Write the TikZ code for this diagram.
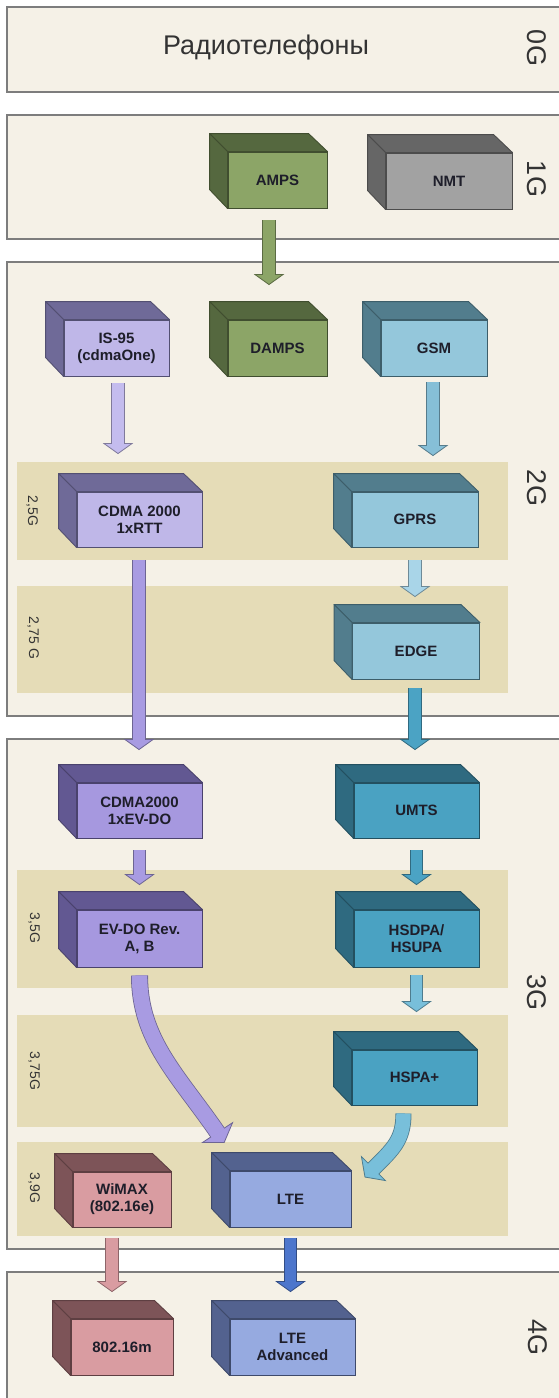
\documentclass[tikz,border=0pt]{standalone}
\usepackage{fontspec}
\setmainfont{Liberation Sans}
\usetikzlibrary{calc}
\definecolor{panelF}{HTML}{F5F1E7}
\definecolor{panelB}{HTML}{7D7D7D}
\definecolor{bandF}{HTML}{E5DCB7}
\definecolor{txt}{HTML}{1E1E2A}
\definecolor{lbl}{HTML}{333333}
\definecolor{greenF}{HTML}{8CA567}
\definecolor{greenD}{HTML}{55683F}
\definecolor{grayF}{HTML}{A2A2A2}
\definecolor{grayD}{HTML}{666666}
\definecolor{lavF}{HTML}{BFB7E8}
\definecolor{lavD}{HTML}{6F6A98}
\definecolor{purF}{HTML}{A698DF}
\definecolor{purD}{HTML}{625892}
\definecolor{ltbF}{HTML}{94C7DB}
\definecolor{ltbD}{HTML}{527D8D}
\definecolor{tealF}{HTML}{4AA2C2}
\definecolor{tealD}{HTML}{2F6A80}
\definecolor{lteF}{HTML}{96AAE0}
\definecolor{lteD}{HTML}{53628F}
\definecolor{pinkF}{HTML}{D99CA1}
\definecolor{pinkD}{HTML}{7D5458}
\definecolor{aGreen}{HTML}{8CA567}
\definecolor{aLav}{HTML}{C4BCEE}
\definecolor{aPur}{HTML}{A89BE2}
\definecolor{aLtb}{HTML}{86BFD7}
\definecolor{aLtbB}{HTML}{A9D5E8}
\definecolor{aTeal}{HTML}{4BA3C4}
\definecolor{aTealB}{HTML}{78BFDA}
\definecolor{aPink}{HTML}{D99CA1}
\definecolor{aBlue}{HTML}{4D76CC}

\tikzset{
  panel/.style={fill=panelF, draw=panelB, line width=1.4pt},
  band/.style={fill=bandF, draw=none},
  cubebox/.style={rectangle, inner sep=0pt, align=center,
    font=\bfseries\fontsize{15}{17}\selectfont, text=txt, line width=0.9pt},
  genlabel/.style={rotate=-90, font=\fontsize{27}{27}\selectfont, text=lbl},
  sublabel/.style={rotate=-90, font=\fontsize{14}{14}\selectfont, text=lbl},
}

% name, cx, cy, w, h, front, dark, text
\newcommand{\cube}[8]{%
  \node[cubebox, fill=#6, draw=#7!75!black, minimum width=#4pt, minimum height=#5pt] (#1) at (#2,#3) {#8};
  \filldraw[fill=#7, draw=#7!75!black, line width=0.9pt, line join=round]
    (#1.north west) -- ++(-18,-18) -- ++(#4,0) -- (#1.north east) -- cycle;
  \filldraw[fill=#7, draw=#7!75!black, line width=0.9pt, line join=round]
    (#1.north west) -- ++(-18,-18) -- ++(0,#5) -- (#1.south west) -- cycle;
}

% shaft path, base coordinate, direction angle, fill colour, shaft width, head half width, head length
\newcommand{\blockarrow}[7]{%
  \pgfmathsetmacro\bArPlus{#3+90}%
  \pgfmathsetmacro\bArMinus{#3-90}%
  \pgfmathsetmacro\bArInner{#5-1.6}%
  \draw[line width=#5pt, #4!65!black] #1;
  \filldraw[fill=#4, draw=#4!65!black, line width=0.8pt, line join=miter]
    ($(#2)+(\bArPlus:#6)$) -- ($(#2)+(#3:#7)$) -- ($(#2)+(\bArMinus:#6)$) -- cycle;
  \draw[line width=\bArInner pt, #4] #1 -- ($(#2)+(#3:1)$);
}
\newcommand{\sarrow}[3]{\blockarrow{(#1) -- (#2)}{#2}{90}{#3}{13.5}{14}{10}}

\begin{document}
\begin{tikzpicture}[x=1pt,y=-1pt]
\useasboundingbox (0,0) rectangle (558,1398);
\fill[white] (0,0) rectangle (558,1398);

% generation panels
\draw[panel] (7,7) rectangle (562,92);
\draw[panel] (7,115) rectangle (562,239);
\draw[panel] (7,262) rectangle (562,716);
\draw[panel] (7,739) rectangle (562,1249);
\draw[panel] (7,1272) rectangle (562,1404);

% sub-generation bands
\fill[band] (17,462) rectangle (508,560);
\fill[band] (17,586) rectangle (508,693);
\fill[band] (17,870) rectangle (508,988);
\fill[band] (17,1015) rectangle (508,1127);
\fill[band] (17,1142) rectangle (508,1236);

% labels
\node[font=\fontsize{27}{27}\selectfont, text=lbl] (radio) at (266,48) {Радиотелефоны};
\node[genlabel] (g0) at (537,48) {0G};
\node[genlabel] (g1) at (537,179) {1G};
\node[genlabel] (g2) at (537,488) {2G};
\node[genlabel] (g3) at (537,992) {3G};
\node[genlabel] (g4) at (538,1337) {4G};
\node[sublabel] (s25) at (32,511) {2,5G};
\node[sublabel] (s275) at (33,638) {2,75 G};
\node[sublabel] (s35) at (34,928) {3,5G};
\node[sublabel] (s375) at (34,1071) {3,75G};
\node[sublabel] (s39) at (34,1188) {3,9G};

% boxes
\cube{AMPS}{277.5}{180}{99}{56}{greenF}{greenD}{AMPS}
\cube{NMT}{449}{181}{126}{56}{grayF}{grayD}{NMT}
\cube{IS95}{116.5}{348}{105}{56}{lavF}{lavD}{IS-95\\(cdmaOne)}
\cube{DAMPS}{277.5}{348}{99}{56}{greenF}{greenD}{DAMPS}
\cube{GSM}{434}{348}{106}{56}{ltbF}{ltbD}{GSM}
\cube{CDMA}{139.5}{519.5}{125}{55}{lavF}{lavD}{CDMA 2000\\1xRTT}
\cube{GPRS}{415}{519.5}{126}{55}{ltbF}{ltbD}{GPRS}
\cube{EDGE}{416}{651}{127}{56}{ltbF}{ltbD}{EDGE}
\cube{EVDOa}{139.5}{810.5}{125}{55}{purF}{purD}{CDMA2000\\1xEV-DO}
\cube{UMTS}{416.5}{810.5}{125}{55}{tealF}{tealD}{UMTS}
\cube{EVDOb}{139.5}{938.5}{125}{57}{purF}{purD}{EV-DO Rev.\\A, B}
\cube{HSDPA}{416.5}{938.5}{125}{57}{tealF}{tealD}{HSDPA/\\HSUPA}
\cube{HSPA}{414.5}{1077.5}{125}{55}{tealF}{tealD}{HSPA+}
\cube{WIMAX}{122}{1199.5}{98}{55}{pinkF}{pinkD}{WiMAX\\(802.16e)}
\cube{LTE}{290.5}{1199}{121}{56}{lteF}{lteD}{LTE}
\cube{WM}{122}{1347}{102}{56}{pinkF}{pinkD}{802.16m}
\cube{LTEA}{292.5}{1347}{125}{56}{lteF}{lteD}{LTE\\Advanced}

% straight arrows
\coordinate (s1) at ($(AMPS.south)+(-8.5,12)$);
\coordinate (b1) at ($(s1 |- DAMPS.north)+(0,-45)$);
\sarrow{s1}{b1}{aGreen}
\coordinate (s2) at ($(IS95.south)+(1.5,7)$);
\coordinate (b2) at ($(s2 |- CDMA.north)+(0,-48)$);
\sarrow{s2}{b2}{aLav}
\coordinate (s3) at ($(GSM.south)+(-1,6)$);
\coordinate (b3) at ($(s3 |- GPRS.north)+(0,-46)$);
\sarrow{s3}{b3}{aLtb}
\coordinate (s4) at ($(CDMA.south)+(-0.5,13)$);
\coordinate (b4) at ($(s4 |- EVDOa.north)+(0,-43)$);
\sarrow{s4}{b4}{aPur}
\coordinate (s5) at ($(GPRS.south)+(0,13)$);
\coordinate (b5) at ($(s5 |- EDGE.north)+(0,-36)$);
\sarrow{s5}{b5}{aLtbB}
\coordinate (s6) at ($(EDGE.south)+(-1,9)$);
\coordinate (b6) at ($(s6 |- UMTS.north)+(0,-43)$);
\sarrow{s6}{b6}{aTeal}
\coordinate (s7) at ($(EVDOa.south)+(0,12)$);
\coordinate (b7) at ($(s7 |- EVDOb.north)+(0,-35)$);
\sarrow{s7}{b7}{aPur}
\coordinate (s8) at ($(UMTS.south)+(0,12)$);
\coordinate (b8) at ($(s8 |- HSDPA.north)+(0,-35)$);
\sarrow{s8}{b8}{aTeal}
\coordinate (s9) at ($(HSDPA.south)+(0,8)$);
\coordinate (b9) at ($(s9 |- HSPA.north)+(0,-48)$);
\sarrow{s9}{b9}{aTealB}
\coordinate (s12) at ($(WIMAX.south)+(-10,11)$);
\coordinate (b12) at ($(s12 |- WM.north)+(0,-37)$);
\sarrow{s12}{b12}{aPink}
\coordinate (s13) at ($(LTE.south)+(0,11)$);
\coordinate (b13) at ($(s13 |- LTEA.north)+(0,-37)$);
\sarrow{s13}{b13}{aBlue}

% curved arrows
\coordinate (s10) at ($(EVDOb.south)+(0,8)$);
\coordinate (b10) at ($(LTE.north west)+(-12,-38)$);
\blockarrow{(s10) .. controls (139.5,1040) and (178,1075) .. (b10)}{b10}{56.6}{aPur}{17}{18}{12}
\coordinate (s11) at ($(HSPA.south)+(-11,8)$);
\coordinate (b11) at ($(LTE.north east)+(22,-2)$);
\blockarrow{(s11) .. controls (403.5,1140) and (393,1149) .. (b11)}{b11}{135}{aTealB}{16}{17}{12}
\end{tikzpicture}
\end{document}
